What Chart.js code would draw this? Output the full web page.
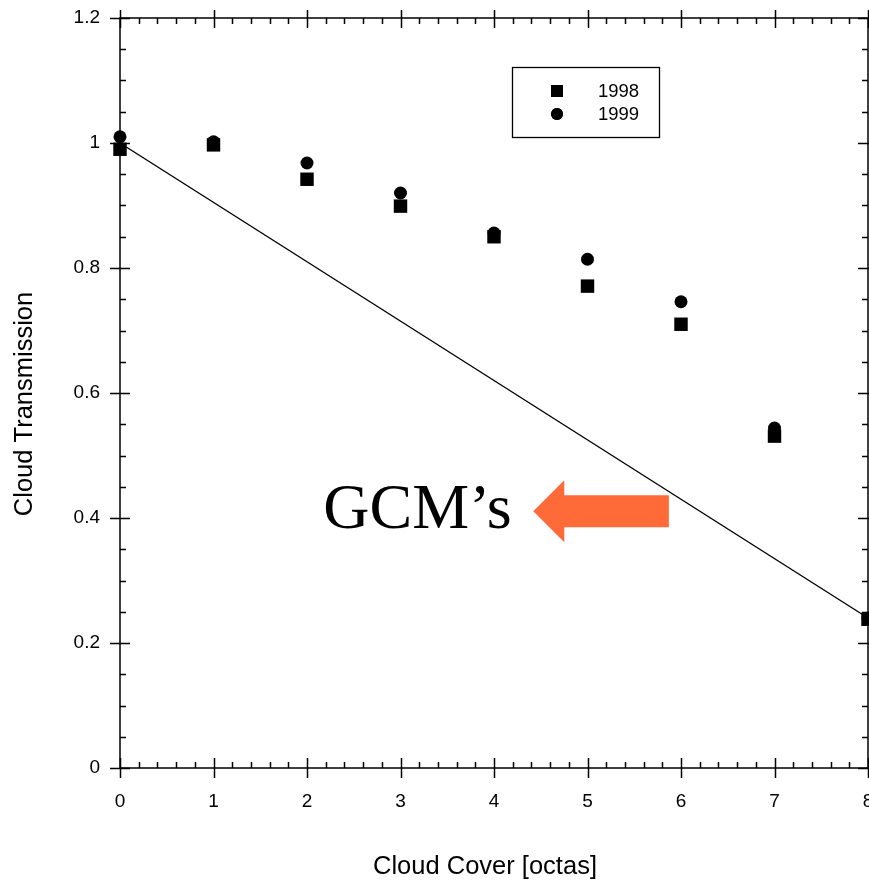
<!DOCTYPE html>
<html>
<head>
<meta charset="utf-8">
<title>Cloud Transmission vs Cloud Cover</title>
<script src="https://cdn.jsdelivr.net/npm/chart.js@4.4.1/dist/chart.umd.min.js"></script>
<style>
  html, body { margin: 0; padding: 0; background: #fff; }
  #wrap { width: 869px; height: 883px; }
</style>
</head>
<body>
<div id="wrap"><canvas id="cloudChart" width="869" height="883"></canvas></div>
<script>
// cloud cover classes (octas)
const octas = [0, 1, 2, 3, 4, 5, 6, 7, 8];
// measured cloud transmission per year
const trans1998 = [0.990, 0.997, 0.942, 0.899, 0.850, 0.771, 0.710, 0.531, 0.238];
const trans1999 = [1.010, 1.002, 0.968, 0.920, 0.856, 0.814, 0.746, 0.544, 0.240];
// GCM parameterisation (straight line)
const gcmX = [0, 8];
const gcmY = [1.0, 0.24];
// axis titles
const xTitle = "Cloud Cover [octas]";
const yTitle = "Cloud Transmission";
// annotation anchor in data units
const gcmLabel = "GCM\u2019s";
const gcmLabelPos = { x: 4.19, y: 0.384 };
const arrowFrom = { x: 5.87, y: 0.411 };
const arrowTo = { x: 4.42, y: 0.411 };

const sansFont = "'Liberation Sans', Arial, sans-serif";

function toPoints(xs, ys) {
  return xs.map((x, i) => ({ x: x, y: ys[i] }));
}

// frame + tick marks drawn like the original plot (crossing majors, inward minors)
const framePlugin = {
  id: "frame",
  beforeDatasetsDraw(chart) {
    const ctx = chart.ctx;
    const a = chart.chartArea;
    const xs = chart.scales.x;
    const ys = chart.scales.y;
    ctx.save();
    ctx.strokeStyle = "#000";
    ctx.lineWidth = 1.5;
    ctx.strokeRect(a.left, a.top, a.right - a.left, a.bottom - a.top);
    ctx.beginPath();
    // x ticks
    for (let v = 0; v <= 8.001; v += 0.2) {
      const px = Math.round(xs.getPixelForValue(v)) + 0.5;
      const major = Math.abs(v - Math.round(v)) < 0.01;
      if (major) {
        ctx.moveTo(px, a.bottom - 10); ctx.lineTo(px, a.bottom + 10);
        ctx.moveTo(px, a.top - 8); ctx.lineTo(px, a.top + 10);
      } else {
        ctx.moveTo(px, a.bottom); ctx.lineTo(px, a.bottom - 6);
        ctx.moveTo(px, a.top); ctx.lineTo(px, a.top + 6);
      }
    }
    // y ticks
    for (let v = 0; v <= 1.2001; v += 0.05) {
      const py = Math.round(ys.getPixelForValue(v)) + 0.5;
      const major = Math.abs(v / 0.2 - Math.round(v / 0.2)) < 0.01;
      if (major) {
        ctx.moveTo(a.left - 10, py); ctx.lineTo(a.left + 10, py);
        ctx.moveTo(a.right - 10, py); ctx.lineTo(a.right + 10, py);
      } else {
        ctx.moveTo(a.left, py); ctx.lineTo(a.left + 6, py);
        ctx.moveTo(a.right, py); ctx.lineTo(a.right - 6, py);
      }
    }
    ctx.stroke();
    ctx.restore();
  },
  afterDraw(chart) {
    const ctx = chart.ctx;
    const xs = chart.scales.x;
    const ys = chart.scales.y;
    ctx.save();

    // axis titles
    ctx.fillStyle = "#000";
    ctx.font = "25.5px " + sansFont;
    ctx.textAlign = "center";
    ctx.textBaseline = "middle";
    ctx.fillText(xTitle, 485, 867);
    ctx.save();
    ctx.translate(25, 404);
    ctx.rotate(-Math.PI / 2);
    ctx.fillText(yTitle, 0, 0);
    ctx.restore();

    // legend box
    const bx = 512, by = 67, bw = 147, bh = 70;
    ctx.strokeStyle = "#000";
    ctx.lineWidth = 1.3;
    ctx.strokeRect(bx + 0.5, by + 0.5, bw, bh);
    const entries = [
      { ds: chart.data.datasets[1], style: "rect", y: by + 24 },
      { ds: chart.data.datasets[2], style: "circle", y: by + 47 }
    ];
    ctx.font = "18.5px " + sansFont;
    ctx.textAlign = "left";
    entries.forEach(e => {
      Chart.helpers.drawPoint(ctx, { pointStyle: e.style, radius: e.style === "rect" ? 8.5 : 6, rotation: 0 }, bx + 45, e.y);
      ctx.fill();
      ctx.fillText(e.ds.label, bx + 86, e.y + 1);
    });

    // GCM annotation with arrow
    ctx.font = "64px 'Liberation Serif', 'Times New Roman', serif";
    ctx.textAlign = "right";
    ctx.textBaseline = "alphabetic";
    ctx.fillText(gcmLabel, xs.getPixelForValue(gcmLabelPos.x), ys.getPixelForValue(gcmLabelPos.y));

    const x0 = xs.getPixelForValue(arrowFrom.x);
    const x1 = xs.getPixelForValue(arrowTo.x);
    const yc = ys.getPixelForValue(arrowTo.y);
    const headLen = 31, headHalf = 31, shaftHalf = 16;
    ctx.fillStyle = "rgb(255,106,57)";
    ctx.beginPath();
    ctx.moveTo(x1, yc);
    ctx.lineTo(x1 + headLen, yc - headHalf);
    ctx.lineTo(x1 + headLen, yc - shaftHalf);
    ctx.lineTo(x0, yc - shaftHalf);
    ctx.lineTo(x0, yc + shaftHalf);
    ctx.lineTo(x1 + headLen, yc + shaftHalf);
    ctx.lineTo(x1 + headLen, yc + headHalf);
    ctx.closePath();
    ctx.fill();
    ctx.restore();
  }
};

new Chart(document.getElementById("cloudChart"), {
  type: "scatter",
  data: {
    datasets: [
      {
        type: "line",
        label: "GCM",
        data: toPoints(gcmX, gcmY),
        borderColor: "#000",
        borderWidth: 1.3,
        pointRadius: 0,
        fill: false,
        order: 3
      },
      {
        label: "1998",
        data: toPoints(octas, trans1998),
        pointStyle: "rect",
        pointRadius: 9.5,
        backgroundColor: "#000",
        borderWidth: 0,
        clip: false,
        order: 2
      },
      {
        label: "1999",
        data: toPoints(octas, trans1999),
        pointStyle: "circle",
        pointRadius: 6.5,
        backgroundColor: "#000",
        borderWidth: 0,
        clip: false,
        order: 1
      }
    ]
  },
  options: {
    responsive: false,
    animation: false,
    layout: { autoPadding: false, padding: { left: 0, top: 18, right: 1, bottom: 0 } },
    plugins: {
      legend: { display: false },
      tooltip: { enabled: false }
    },
    scales: {
      x: {
        type: "linear",
        min: 0,
        max: 8,
        grid: { display: false },
        border: { display: false },
        ticks: { stepSize: 1, color: "#000", font: { family: sansFont, size: 19 }, padding: 14, maxRotation: 0 },
        afterFit(s) { s.height = 115; s.paddingLeft = 0; s.paddingRight = 0; }
      },
      y: {
        min: 0,
        max: 1.2,
        grid: { display: false },
        border: { display: false },
        ticks: {
          stepSize: 0.2,
          color: "#000",
          font: { family: sansFont, size: 19 },
          padding: 12,
          callback: v => String(+v.toFixed(1))
        },
        afterFit(s) { s.width = 120; s.paddingTop = 0; s.paddingBottom = 0; }
      }
    }
  },
  plugins: [framePlugin]
});
</script>
</body>
</html>
